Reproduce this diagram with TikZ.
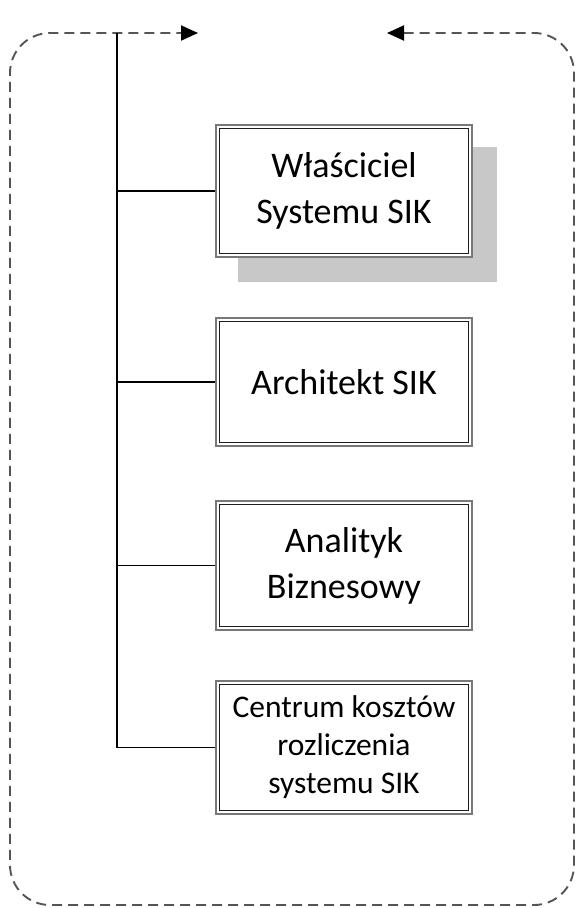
\documentclass[tikz,border=0pt]{standalone}
\usepackage{fontspec}
\setmainfont{Carlito}
\usetikzlibrary{arrows.meta,positioning}
\definecolor{framegray}{RGB}{85,85,85}
\definecolor{shadowgray}{RGB}{200,200,200}
\definecolor{boxouter}{RGB}{120,120,120}
\definecolor{boxinner}{RGB}{30,30,30}
\begin{document}
\begin{tikzpicture}[x=1pt,y=-1pt,
  rolebox/.style={draw=boxouter,line width=2.4pt,fill=white,
    align=center,inner sep=0pt,minimum width=255.5pt,text=black},
  innerline/.style={draw=boxinner,line width=1.5pt},
  bigtext/.style={font=\fontsize{36}{46}\selectfont},
  smalltext/.style={font=\fontsize{31.5}{38}\selectfont},
  frame/.style={draw=framegray,line width=1.9pt,dash pattern=on 10pt off 6pt,rounded corners=40pt},
  branch/.style={draw=black,line width=1.4pt}]
\useasboundingbox (0,0) rectangle (577,908);
% shadow
\fill[shadowgray] (238,147) rectangle (497,282);
% boxes
\node[rolebox,bigtext,minimum height=131.5pt] (b1) at (344,191) {Właściciel\\Systemu SIK};
\node[rolebox,bigtext,minimum height=127.5pt] (b2) at (344,382) {Architekt SIK};
\node[rolebox,bigtext,minimum height=128.5pt] (b3) at (344,565.5) {Analityk\\Biznesowy};
\node[rolebox,smalltext,minimum height=132.5pt] (b4) at (344,747.5) {Centrum kosztów\\rozliczenia\\systemu SIK};
\foreach \b in {b1,b2,b3,b4}
  \draw[innerline] ([shift={(4.3,4.3)}]\b.north west) rectangle ([shift={(-4.3,-4.3)}]\b.south east);
% frame with arrows
\coordinate (ftipR) at (387,33);
\coordinate (ftipL) at (198,33);
\draw[frame,{Triangle[length=17pt,width=15pt,color=black,fill=black]}-{Triangle[length=17pt,width=15pt,color=black,fill=black]}]
  (ftipR) -- (574,33) -- (574,905) -- (10,905) -- (10,33) -- (ftipL);
% vertical trunk
\coordinate (vtop) at (117,33);
\coordinate (vbot) at (117,747.5);
\draw[branch] (vtop) -- (vbot);
\draw[branch] (vtop |- b1.west) -- (b1.west);
\draw[branch] (vtop |- b2.west) -- (b2.west);
\draw[branch] (vtop |- b3.west) -- (b3.west);
\draw[branch] (vtop |- b4.west) -- (b4.west);
\end{tikzpicture}
\end{document}
